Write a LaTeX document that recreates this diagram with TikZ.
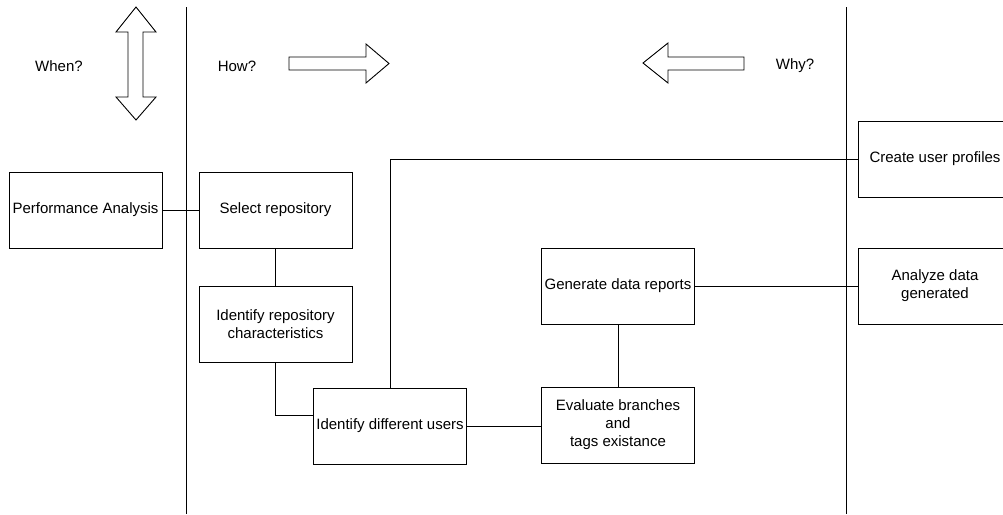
\documentclass[tikz,border=0pt]{standalone}
\usepackage{fontspec}
\setmainfont{Liberation Sans}
\usepackage{tikz}
\tikzstyle{stage}=[draw, line width=1pt, minimum width=153pt, minimum height=76pt, inner sep=0pt, align=center]
\tikzstyle{link}=[line width=1pt]
\tikzstyle{fatarrow}=[draw, line width=0.9pt, line join=miter]
\tikzstyle{question}=[inner sep=0pt]

\begin{document}
\begin{tikzpicture}[x=1pt, y=-1pt, font=\fontsize{15}{18}\selectfont]
        \useasboundingbox (0, 0) rectangle (1003, 514);
        % lane borders
        \coordinate (leftTop) at (186, 7);
        \coordinate (leftBot) at (186, 514);
        \coordinate (rightTop) at (846, 7);
        \coordinate (rightBot) at (846, 514);
        \draw[link] (leftTop) -- (leftBot);
        \draw[link] (rightTop) -- (rightBot);

        \node[question] (when) at (59, 66) {When?};
        \node[question] (how) at (237, 66) {How?};
        \node[question] (why) at (795, 66) {Why?};

        % hollow arrows
        \draw[fatarrow] (136, 7) -- (156, 32) -- (143, 32) -- (143, 97) -- (156, 97) -- (136, 120)
            -- (116, 97) -- (128, 97) -- (128, 32) -- (116, 32) -- cycle;
        \draw[fatarrow] (289, 57) -- (366, 57) -- (366, 44) -- (389, 63.5) -- (366, 83) -- (366, 70) -- (289, 70) -- cycle;
        \draw[fatarrow] (744, 57) -- (668, 57) -- (668, 43) -- (643, 63) -- (668, 83) -- (668, 70) -- (744, 70) -- cycle;

        % steps
        \node[stage] (perf) at (85.5, 210) {Performance Analysis};
        \node[stage] (repo) at (275.5, 210) {Select repository};
        \node[stage] (chars) at (275.5, 324) {Identify repository\\characteristics};
        \node[stage] (users) at (390, 426) {Identify different users};
        \node[stage] (branches) at (618, 425) {Evaluate branches\\and\\tags existance};
        \node[stage] (reports) at (618, 286) {Generate data reports};
        \node[stage] (profiles) at (935, 159) {Create user profiles};
        \node[stage] (analyze) at (935, 286) {Analyze data\\generated};

        \draw[link] (perf.east) -- (repo.west);
        \draw[link] (repo.south) -- (chars.north);
        \draw[link] (chars.south) |- (users.172);
        \draw[link] (users.north) |- (profiles.west);
        \draw[link] (users.east) -- (branches.west |- users.east);
        \draw[link] (branches.north) -- (reports.south);
        \draw[link] (reports.east) -- (analyze.west);
    \end{tikzpicture}
\end{document}
